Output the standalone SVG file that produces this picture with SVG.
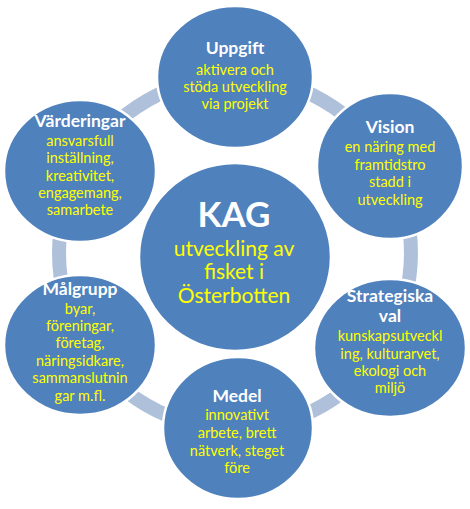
<svg xmlns="http://www.w3.org/2000/svg" width="470" height="509" viewBox="0 0 470 509">
<style>
.node{fill:#4F81BD;stroke:#FFFFFF;stroke-width:2.5}
.conn{fill:none;stroke:#AFC0DB;stroke-width:14}
text{font-family:Lato,"Open Sans","DejaVu Sans",sans-serif;text-anchor:middle}
.t{fill:#FFFFFF;font-weight:bold;font-size:17.5px}
.b{fill:#FFFF00;font-size:14.5px}
.kt{fill:#FFFFFF;font-weight:bold;font-size:35px}
.kb{fill:#FFFF00;font-size:21px}
</style>
<rect width="470" height="509" fill="#FFFFFF"/>
<g id="connectors">
<path class="conn" d="M235,77 A176,176 0 0 1 387.4,165"/>
<path class="conn" d="M387.4,165 A176,176 0 0 1 387.4,341"/>
<path class="conn" d="M387.4,341 A176,176 0 0 1 235,429"/>
<path class="conn" d="M235,429 A176,176 0 0 1 82.6,341"/>
<path class="conn" d="M82.6,341 A176,176 0 0 1 82.6,165"/>
<path class="conn" d="M82.6,165 A176,176 0 0 1 235,77"/>
</g>
<g id="kag">
<ellipse class="node" cx="235" cy="257" rx="96" ry="94"/>
<text class="kt" x="234" y="227">KAG</text>
<text class="kb" x="234" y="256">utveckling av</text>
<text class="kb" x="234" y="279">fisket i</text>
<text class="kb" x="234" y="303">Österbotten</text>
</g>
<g id="uppgift">
<ellipse class="node" cx="235" cy="77" rx="78" ry="71"/>
<text class="t" x="235" y="54">Uppgift</text>
<text class="b" x="235" y="75">aktivera och</text>
<text class="b" x="235" y="92">stöda utveckling</text>
<text class="b" x="235" y="109">via projekt</text>
</g>
<g id="vision">
<ellipse class="node" cx="390" cy="166" rx="73" ry="73"/>
<text class="t" x="390" y="133">Vision</text>
<text class="b" x="390" y="152">en näring med</text>
<text class="b" x="390" y="170">framtidstro</text>
<text class="b" x="390" y="187">stadd i</text>
<text class="b" x="390" y="205">utveckling</text>
</g>
<g id="strategiska">
<ellipse class="node" cx="390" cy="348" rx="76" ry="69"/>
<text class="t" x="390" y="302">Strategiska</text>
<text class="t" x="390" y="322">val</text>
<text class="b" x="390" y="341">kunskapsutveckl</text>
<text class="b" x="390" y="359">ing, kulturarvet,</text>
<text class="b" x="390" y="376">ekologi och</text>
<text class="b" x="390" y="393">miljö</text>
</g>
<g id="medel">
<ellipse class="node" cx="238" cy="428" rx="75" ry="71"/>
<text class="t" x="237" y="402">Medel</text>
<text class="b" x="237" y="420">innovativt</text>
<text class="b" x="237" y="438">arbete, brett</text>
<text class="b" x="237" y="456">nätverk, steget</text>
<text class="b" x="237" y="473">före</text>
</g>
<g id="malgrupp">
<ellipse class="node" cx="80" cy="345" rx="76" ry="70"/>
<text class="t" x="80" y="295">Målgrupp</text>
<text class="b" x="80" y="314">byar,</text>
<text class="b" x="80" y="331">föreningar,</text>
<text class="b" x="80" y="348">företag,</text>
<text class="b" x="80" y="366">näringsidkare,</text>
<text class="b" x="80" y="383">sammanslutnin</text>
<text class="b" x="80" y="401">gar m.fl.</text>
</g>
<g id="varderingar">
<ellipse class="node" cx="80" cy="171" rx="76" ry="71"/>
<text class="t" x="80" y="127">Värderingar</text>
<text class="b" x="80" y="146">ansvarsfull</text>
<text class="b" x="80" y="163">inställning,</text>
<text class="b" x="80" y="181">kreativitet,</text>
<text class="b" x="80" y="198">engagemang,</text>
<text class="b" x="80" y="215">samarbete</text>
</g>
</svg>
